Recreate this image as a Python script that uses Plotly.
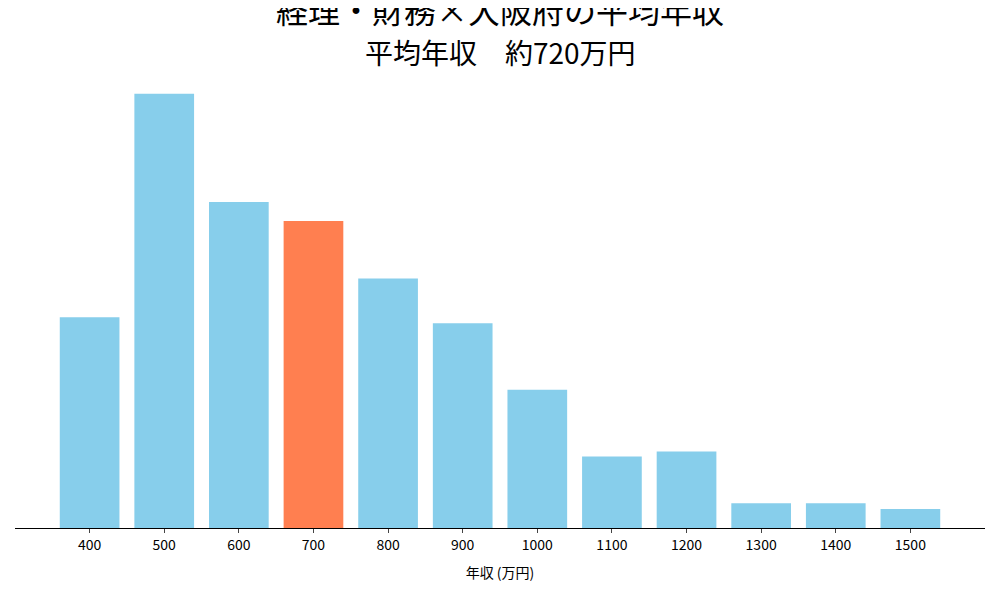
import plotly.graph_objects as go

categories = ["400","500","600","700","800","900","1000","1100","1200","1300","1400","1500"]
values = [212,437,328,309,251,206,139,72,77,25,25,19]
highlight = "700"
colors = ["#FF7F50" if c == highlight else "#87CEEB" for c in categories]

fig = go.Figure(go.Bar(x=list(range(len(categories))), y=values, marker_color=colors, width=0.8, marker_line_width=0))
fig.update_layout(
    width=1000, height=600, paper_bgcolor="white", plot_bgcolor="white",
    margin=dict(l=7, r=23, t=64, b=80, autoexpand=False),
    font=dict(family="Noto Sans CJK JP", color="black"),
    showlegend=False,
    annotations=[
        dict(text="経理・財務×大阪府の平均年収", x=0.5, y=1, xref="paper", yref="paper", xanchor="center", yanchor="bottom",
             yshift=38, showarrow=False, font=dict(size=32)),
        dict(text="平均年収　約720万円", x=0.5, y=1, xref="paper", yref="paper", xanchor="center", yanchor="bottom",
             yshift=-2, showarrow=False, font=dict(size=28)),
    ],
)
fig.update_xaxes(range=[-1, 12], tickmode="array", tickvals=list(range(len(categories))), ticktext=categories,
                 showline=True, linecolor="black", ticks="outside", ticklen=4, tickfont=dict(size=14),
                 title=dict(text="年収 (万円)", font=dict(size=14)), showgrid=False, zeroline=False)
fig.update_yaxes(range=[0, max(values)*1.05], visible=False)
fig.write_html("out.html")
